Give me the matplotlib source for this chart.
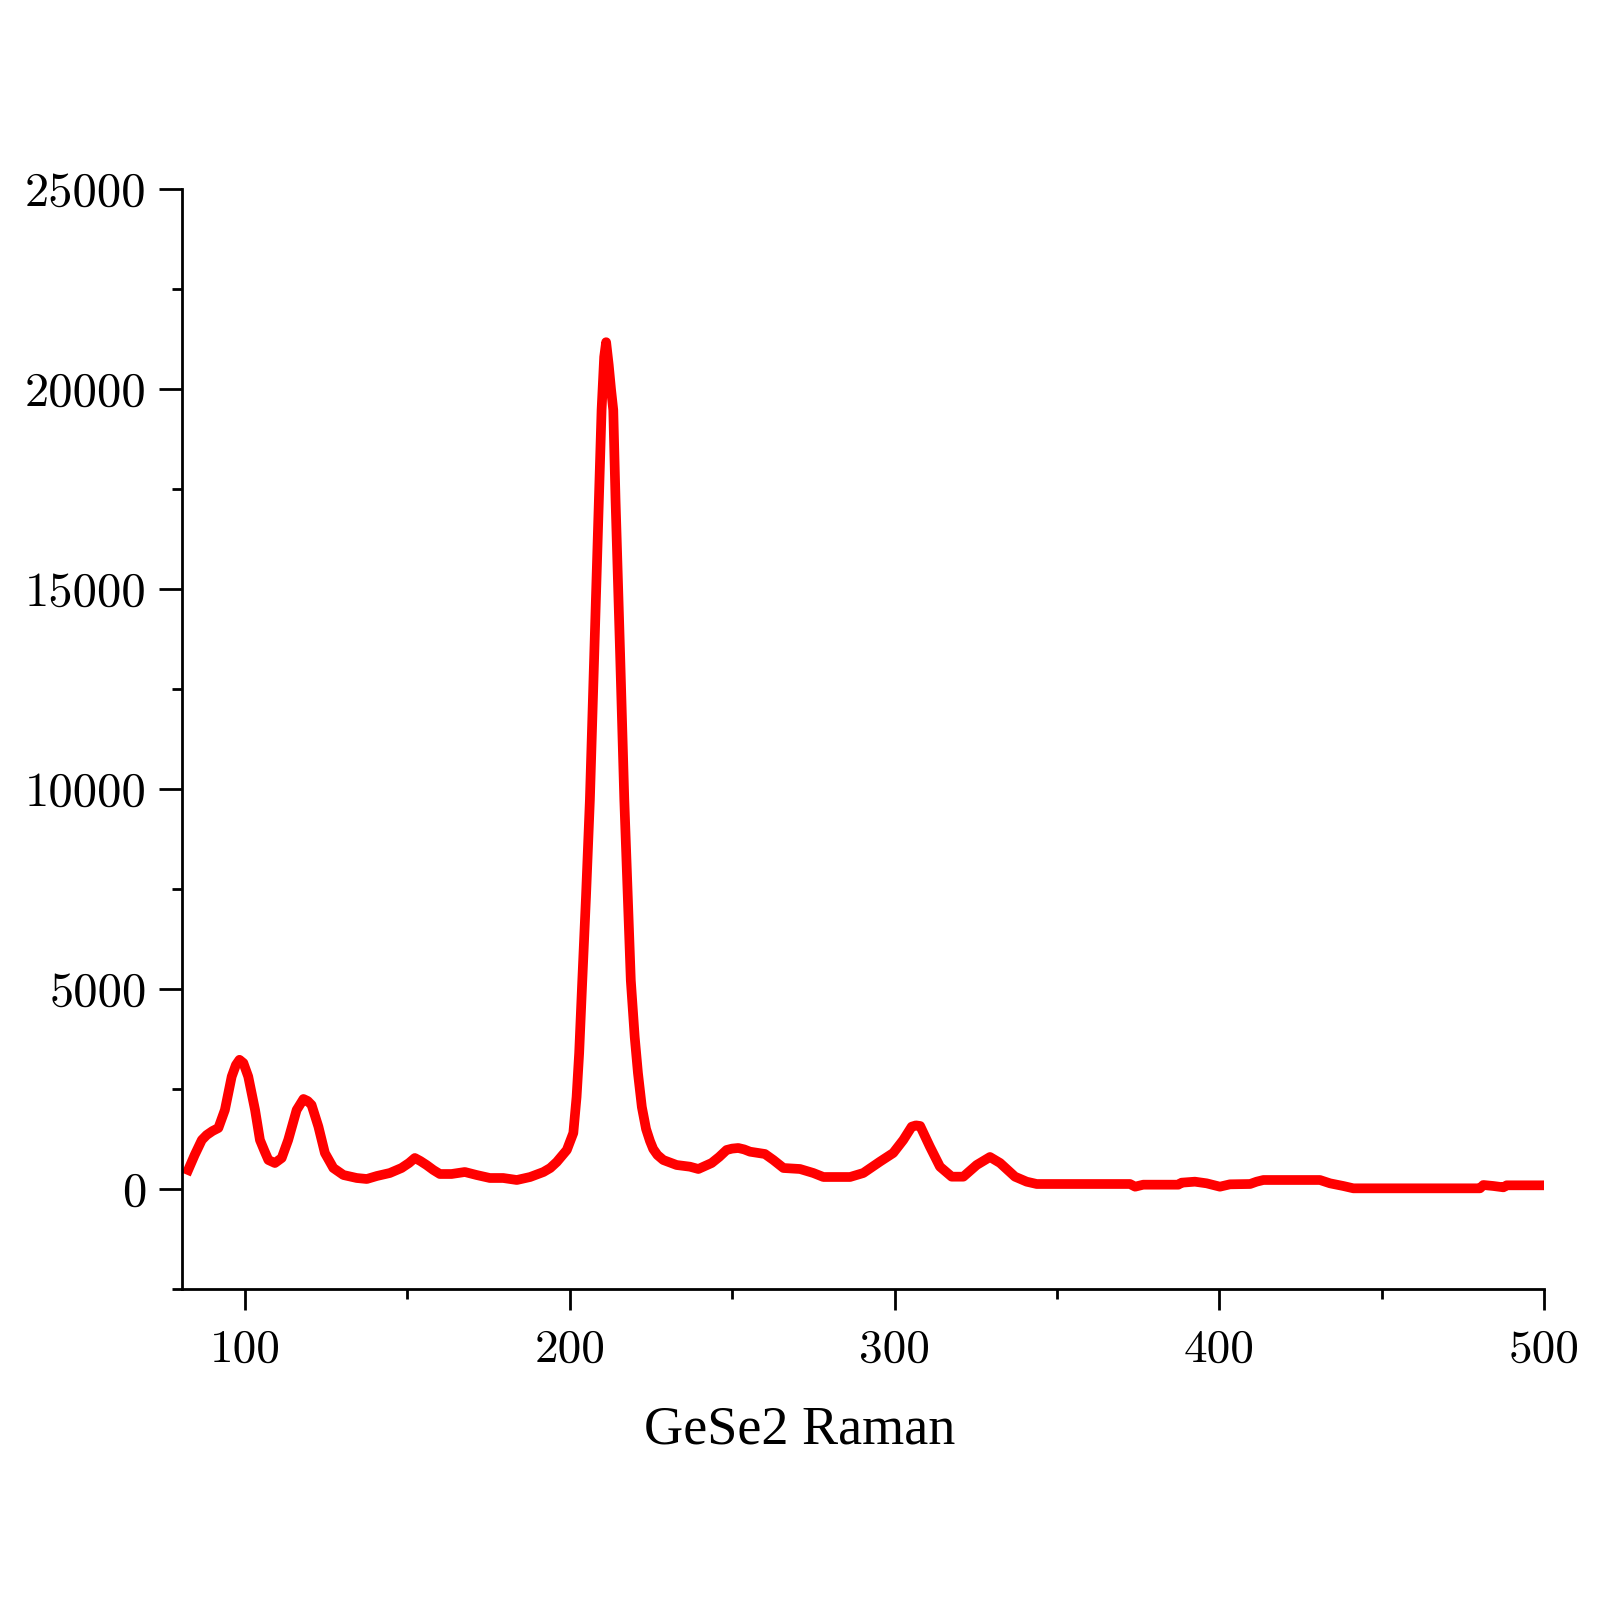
import matplotlib
matplotlib.use("Agg")
import matplotlib.pyplot as plt
from matplotlib.ticker import MultipleLocator

# Raman shift (cm^-1) and intensity
raman_shift = [82.5, 84.5, 86.7, 88.2, 90, 91.8, 93.8, 95.9, 97.2, 98.3, 99.5, 101, 103.1, 104.6, 106,
               107.2, 109.2, 111.3, 113.3, 115.9, 118, 119.3, 120.5, 122.6, 124.6, 127.2, 130.3, 134.4,
               137.5, 140.6, 144.6, 148.2, 150.5, 152.3, 154, 155.9, 158, 160, 163.6, 167.7, 171.3,
               175.4, 179.5, 183.7, 187.8, 191.9, 194, 196, 199.1, 201.1, 202.1, 202.9, 203.8, 205.0,
               206.2, 207.6, 209.0, 209.8, 210.6, 211.2, 212.0, 212.7, 213.4, 214.1, 215.5, 216.8,
               218.8, 220.0, 221.0, 222.2, 223.5, 224.7, 225.7, 227, 228.8, 232.9, 237.0, 239.6, 243.7, 246,
               248.3, 250, 251.9, 253.7, 255.5, 260.1, 262.7, 265.8, 270.9, 275, 278.1, 286.3, 290.4,
               295.5, 299.6, 302.7, 305.3, 306.6, 307.9, 310.9, 314, 317.6, 321.2, 325.3, 329.4, 332.5,
               337.1, 340.7, 343.8, 347.9, 363.3, 372.5, 374.1, 376.6, 387.4, 388.4, 392.5, 396.1,
               400.2, 403.3, 409.5, 411.5, 413.6, 431, 434.1, 438.2, 441.3, 480.3, 481.3, 484.4, 487.5,
               488.5, 500]
intensity = [475, 850, 1225, 1350, 1450, 1525, 1975, 2810, 3100, 3230, 3150, 2810, 1975, 1225, 950,
             725, 650, 775, 1225, 1975, 2250, 2200, 2100, 1560, 900, 525, 350, 275,
             250, 325, 400, 525, 650, 775, 700, 600, 475, 375, 375, 425, 350,
             275, 275, 225, 300, 425, 525, 675, 975, 1400, 2300, 3400, 5100, 7300,
             9725, 13500, 17225, 19475, 20800, 21170, 20600, 20000, 19475, 17225, 13400, 9725,
             5214, 3800, 2900, 2050, 1500, 1200, 1000, 850, 725, 600, 558, 500, 650, 800,
             975, 1010, 1025, 990, 933, 875, 725, 525, 500, 400, 300, 300, 400,
             683, 900, 1225, 1558, 1590, 1575, 1058, 558, 308, 308, 600, 800, 650,
             308, 183, 125, 125, 125, 125, 58, 108, 108, 158, 183, 142,
             58, 117, 125, 183, 225, 225, 142, 75, 17, 17, 100, 75, 42,
             92, 92]

x_major = [100, 200, 300, 400, 500]
y_major = [0, 5000, 10000, 15000, 20000, 25000]
x_label = "GeSe2 Raman"

W, H = 1600, 1601
fig = plt.figure(figsize=(W / 100, H / 100), dpi=100)
ax = fig.add_axes([182 / W, (H - 1289) / H, (1544 - 182) / W, (1289 - 189) / H])

ax.plot(raman_shift, intensity, color="#ff0000", linewidth=7, solid_joinstyle="round")

ax.set_xlim(80.6, 500)
ax.set_ylim(-2500, 25000)
ax.set_xticks(x_major)
ax.set_yticks(y_major)
ax.xaxis.set_minor_locator(MultipleLocator(50))
ax.yaxis.set_minor_locator(MultipleLocator(2500))

for s in ("top", "right"):
    ax.spines[s].set_visible(False)
for s in ("left", "bottom"):
    ax.spines[s].set_linewidth(2)

ax.tick_params(axis="y", which="major", direction="out", length=16.5, width=2, pad=9)
ax.tick_params(axis="x", which="major", direction="out", length=15, width=2, pad=14)
ax.tick_params(which="minor", direction="out", length=7.5, width=2)

for lab in ax.get_xticklabels():
    lab.set_fontfamily("cmr10")
    lab.set_fontsize(34)
for lab in ax.get_yticklabels():
    lab.set_fontfamily("cmr10")
    lab.set_fontsize(35)

fig.text(800 / W, (H - 1443) / H, x_label, ha="center", va="baseline",
         fontsize=39, family="Liberation Serif")

fig.savefig("out.png", dpi=100, facecolor="white")
